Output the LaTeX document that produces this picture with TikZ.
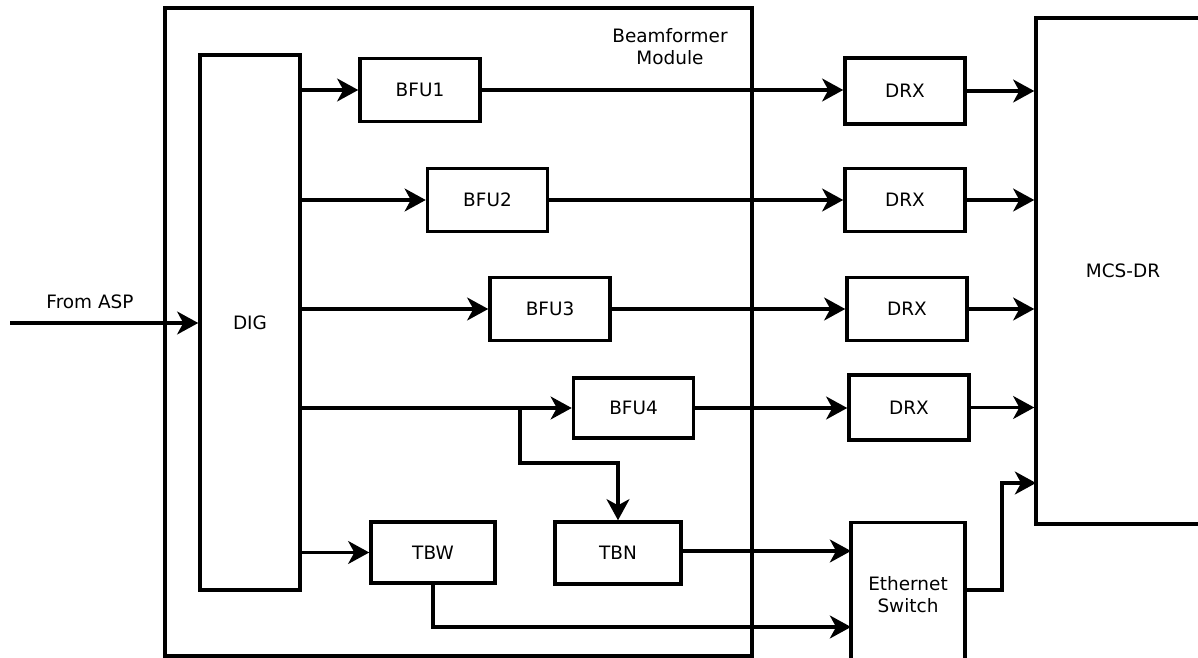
\documentclass[tikz,border=0pt]{standalone}
\usepackage{fontspec}
\setmainfont{DejaVu Sans}
\usetikzlibrary{arrows.meta, positioning}

\tikzset{
  block/.style={draw, line width=2pt, fill=white, font=\fontsize{10.5}{12.5}\selectfont,
                minimum width=2.4cm, minimum height=1.26cm, inner sep=0pt},
  link/.style={line width=2pt, -{Stealth[length=12pt, width=13pt, inset=3.5pt]}},
  lbl/.style={font=\fontsize{10.5}{12.5}\selectfont, align=center}
}

\begin{document}
\begin{tikzpicture}[x=0.02cm, y=-0.02cm]
  \useasboundingbox (0,0) rectangle (1198,658);

  % beamformer module frame
  \node[block, minimum width=11.74cm, minimum height=12.96cm] (bfm) at (458.5,332) {};
  \node[lbl] (bfmlbl) at (670,47) {Beamformer\\ Module};

  % blocks inside the module
  \node[block, minimum width=2cm, minimum height=10.7cm] (dig) at (250,322.5) {DIG};
  \node[block] (bfu1) at (420,90) {BFU1};
  \node[block] (bfu2) at (487.5,200) {BFU2};
  \node[block] (bfu3) at (550,309) {BFU3};
  \node[block, minimum height=1.2cm] (bfu4) at (633.5,408) {BFU4};
  \node[block, minimum width=2.48cm, minimum height=1.22cm] (tbw) at (433,552.5) {TBW};
  \node[block, minimum width=2.52cm, minimum height=1.24cm] (tbn) at (618,553) {TBN};

  % receivers and outside blocks
  \node[block, minimum height=1.32cm] (drx1) at (905,91) {DRX};
  \node[block] (drx2) at (905,200) {DRX};
  \node[block] (drx3) at (907,309) {DRX};
  \node[block, minimum height=1.3cm] (drx4) at (909,407.5) {DRX};
  \node[block, minimum width=2.28cm, minimum height=2.9cm, align=center] (eth) at (908,595) {Ethernet\\ Switch};
  \node[block, minimum width=3.48cm, minimum height=10.12cm] (mcs) at (1123,271) {MCS-DR};

  % input
  \coordinate (asp) at (10,323);
  \node[lbl] (asplbl) at (90,302) {From ASP};
  \draw[link] (asp) -- (dig.west |- asp);

  % DIG to the beamformer units
  \draw[link] (dig.east |- bfu1.west) -- (bfu1.west);
  \draw[link] (dig.east |- bfu2.west) -- (bfu2.west);
  \draw[link] (dig.east |- bfu3.west) -- (bfu3.west);
  \draw[link] (dig.east |- bfu4.west) -- (bfu4.west);
  \draw[link] (dig.east |- tbw.west) -- (tbw.west);

  % units to receivers
  \draw[link] (bfu1.east) -- (drx1.west |- bfu1.east);
  \draw[link] (bfu2.east) -- (drx2.west |- bfu2.east);
  \draw[link] (bfu3.east) -- (drx3.west |- bfu3.east);
  \draw[link] (bfu4.east) -- (drx4.west |- bfu4.east);

  % receivers to MCS-DR
  \draw[link] (drx1.east) -- (mcs.west |- drx1.east);
  \draw[link] (drx2.east) -- (mcs.west |- drx2.east);
  \draw[link] (drx3.east) -- (mcs.west |- drx3.east);
  \draw[link] (drx4.east) -- (mcs.west |- drx4.east);

  % branch to TBN
  \coordinate (br) at (520,408);
  \coordinate (bend) at (520,463);
  \draw[link] (br) -- (bend) -| (tbn.north);

  % switch inputs
  \coordinate (ethin1) at (851,551);
  \coordinate (ethin2) at (851,627);
  \draw[link] (tbn.east |- ethin1) -- (ethin1);
  \draw[link] (tbw.south) |- (ethin2);

  % switch to MCS-DR
  \coordinate (mcsin) at (1036,483);
  \draw[link] (eth.east |- 0,590) -- ++(35,0) |- (mcsin);
\end{tikzpicture}
\end{document}
